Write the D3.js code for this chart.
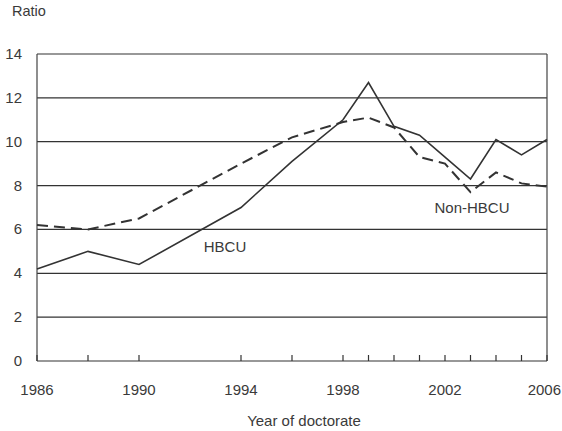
<!DOCTYPE html>
<html>
<head>
<meta charset="utf-8">
<script src="https://cdn.jsdelivr.net/npm/d3@7"></script>
<style>
  body { margin: 0; background: #fff; }
  text { font-family: "Liberation Sans", Arial, sans-serif; fill: #3a3a3a; }
</style>
</head>
<body>
<div id="chart"></div>
<script>
const years = [1986, 1988, 1990, 1994, 1996, 1998, 1999, 2000, 2001, 2002, 2003, 2004, 2005, 2006];
const hbcu = [4.2, 5.0, 4.4, 7.0, 9.1, 11.0, 12.7, 10.7, 10.3, 9.3, 8.3, 10.1, 9.4, 10.1];
const nonHbcu = [6.2, 6.0, 6.5, 9.0, 10.2, 10.9, 11.1, 10.65, 9.3, 9.0, 7.7, 8.6, 8.1, 7.95];
const xLabels = [1986, 1990, 1994, 1998, 2002, 2006];
const yTicks = [0, 2, 4, 6, 8, 10, 12, 14];

const width = 562;
const height = 431;
const margin = { top: 54, right: 15, bottom: 70, left: 37 };

const svg = d3
  .select("#chart")
  .append("svg")
  .attr("width", width)
  .attr("height", height);

const x = d3.scaleLinear().domain([1986, 2006]).range([margin.left, width - margin.right]);
const y = d3.scaleLinear().domain([0, 14]).range([height - margin.bottom, margin.top]);

// gridlines
svg
  .append("g")
  .selectAll("line")
  .data(yTicks)
  .join("line")
  .attr("x1", margin.left)
  .attr("x2", width - margin.right)
  .attr("y1", (d) => y(d))
  .attr("y2", (d) => y(d))
  .attr("stroke", "#333")
  .attr("stroke-width", 1.2);

// frame left and right
svg
  .append("line")
  .attr("x1", margin.left).attr("x2", margin.left)
  .attr("y1", y(0)).attr("y2", y(14))
  .attr("stroke", "#444").attr("stroke-width", 1.2);
svg
  .append("line")
  .attr("x1", x(2006)).attr("x2", x(2006))
  .attr("y1", y(0)).attr("y2", y(14))
  .attr("stroke", "#444").attr("stroke-width", 1.2);

// x ticks at data years (inside)
svg
  .append("g")
  .selectAll("line")
  .data(years)
  .join("line")
  .attr("x1", (d) => x(d))
  .attr("x2", (d) => x(d))
  .attr("y1", y(0))
  .attr("y2", y(0) - 6)
  .attr("stroke", "#333")
  .attr("stroke-width", 1.2);

// y labels
svg
  .append("g")
  .selectAll("text")
  .data(yTicks)
  .join("text")
  .attr("x", 22)
  .attr("y", (d) => y(d) + 5)
  .attr("text-anchor", "end")
  .style("font-size", "15px")
  .text((d) => d);

// x labels (last one kept inside the page edge)
svg
  .append("g")
  .selectAll("text")
  .data(xLabels)
  .join("text")
  .attr("x", (d) => x(d))
  .attr("y", 395)
  .attr("text-anchor", "middle")
  .style("font-size", "15px")
  .text((d) => d)
  .each(function () {
    const w = this.getComputedTextLength();
    const cx = +this.getAttribute("x");
    if (cx + w / 2 > width - 1) this.setAttribute("x", width - 1 - w / 2);
  });

svg.append("text")
  .attr("x", 12).attr("y", 16)
  .style("font-size", "14.5px")
  .text("Ratio");

svg.append("text")
  .attr("x", 304).attr("y", 426)
  .attr("text-anchor", "middle")
  .style("font-size", "15px")
  .text("Year of doctorate");

const line = d3
  .line()
  .x((d, i) => x(years[i]))
  .y((d) => y(d));

svg.append("path")
  .datum(nonHbcu)
  .attr("d", line)
  .attr("fill", "none")
  .attr("stroke", "#333")
  .attr("stroke-width", 2)
  .attr("stroke-dasharray", "11 6");

svg.append("path")
  .datum(hbcu)
  .attr("d", line)
  .attr("fill", "none")
  .attr("stroke", "#333")
  .attr("stroke-width", 1.6);

svg.append("text")
  .attr("x", 225).attr("y", 252)
  .attr("text-anchor", "middle")
  .style("font-size", "15px")
  .text("HBCU");

svg.append("text")
  .attr("x", 472).attr("y", 213)
  .attr("text-anchor", "middle")
  .style("font-size", "15px")
  .text("Non-HBCU");
</script>
</body>
</html>
